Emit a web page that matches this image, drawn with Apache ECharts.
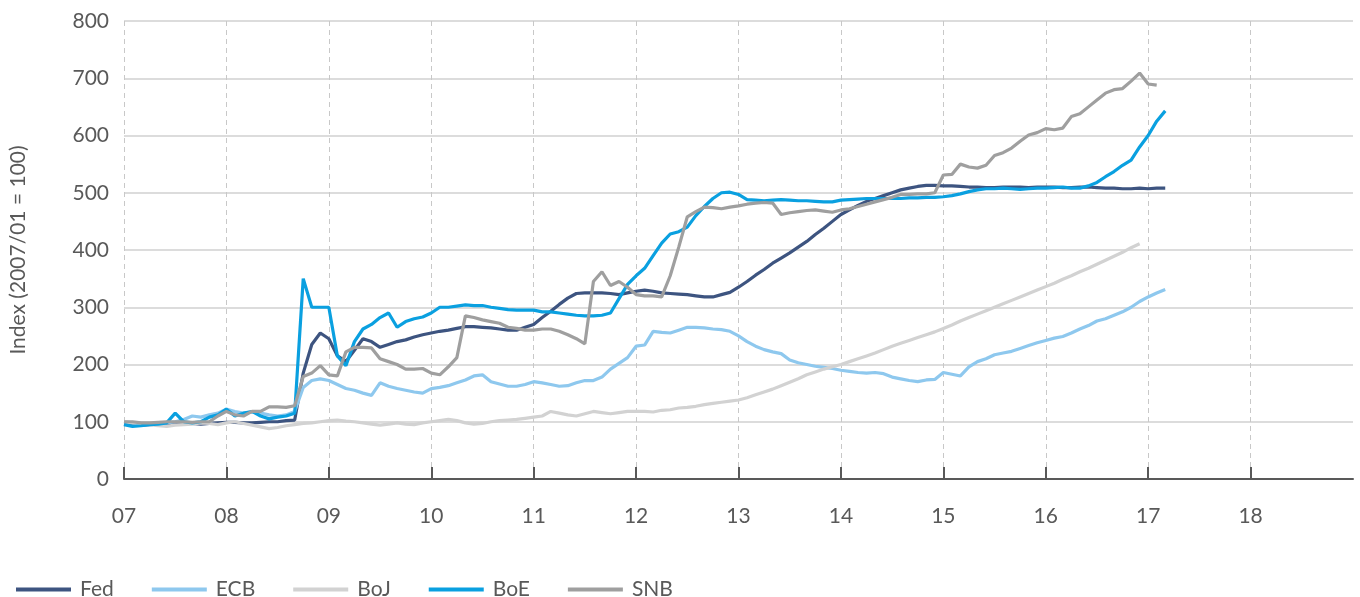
<!DOCTYPE html>
<html>
<head>
<meta charset="utf-8">
<script src="https://cdn.jsdelivr.net/npm/echarts@6/dist/echarts.min.js"></script>
<style>
  html, body { margin: 0; padding: 0; background: #fff; }
  #main { width: 1360px; height: 597px; }
</style>
</head>
<body>
<div id="main"></div>
<script>
// monthly index values, 2007/01 = 100, first value is Jan 2007
const START_YEAR = 2007;
const seriesNames = ["Fed", "ECB", "BoJ", "BoE", "SNB"];
const colors = ["#3d5480", "#8ec8ee", "#d2d2d2", "#0aa0e0", "#9f9f9f"];

const fed = [
  96, 94, 94, 95, 96, 96, 97, 98, 97, 96, 97, 98,
  99, 99, 98, 98, 99, 100, 100, 102, 103, 185, 235, 255,
  245, 215, 205, 225, 245, 240, 230, 235, 240, 243, 248, 252,
  255, 258, 260, 263, 266, 266, 265, 264, 262, 260, 260, 265,
  270, 282, 293, 305, 316, 324, 325, 325, 325, 324, 322, 325,
  328, 330, 328, 325, 324, 323, 322, 320, 318, 318, 322, 326,
  335, 345, 356, 366, 377, 386, 395, 405, 415, 427, 438, 450,
  462, 470, 478, 485, 490, 495, 500, 505, 508, 511, 513, 513,
  512, 512, 511, 510, 510, 509, 509, 510, 510, 510, 509, 510,
  510, 510, 509, 509, 510, 510, 509, 508, 508, 507, 507, 508,
  507, 508, 508
];
const ecb = [
  100, 98, 97, 96, 97, 98, 100, 104, 110, 108, 112, 115,
  122, 118, 115, 117, 115, 112, 110, 112, 118, 160, 172, 175,
  172, 165, 158, 155, 150, 146, 168, 162, 158, 155, 152, 150,
  158, 160, 163, 168, 173, 180, 182, 170, 166, 162, 162, 165,
  170, 168, 165, 162, 163, 168, 172, 172, 178, 192, 202, 212,
  232, 234, 258, 256, 255, 260, 265, 265, 264, 262, 261, 258,
  250, 240, 232, 226, 222, 219, 208, 203, 200, 197, 195, 193,
  190, 188, 186, 185, 186, 184, 178, 175, 172, 170, 173, 174,
  186, 183, 180, 196, 205, 210, 217, 220, 223, 228, 233, 238,
  242, 246, 249, 255, 262, 268, 276, 280, 286, 292, 300, 310,
  318, 325, 331
];
const boj = [
  100, 98, 96, 95, 93, 92, 94, 95, 96, 98, 97, 95,
  98, 100, 97, 94, 91, 88, 90, 93, 95, 97, 98, 100,
  102, 103, 101, 100, 98, 96, 94, 96, 98, 96, 95, 98,
  100, 102, 104, 102, 98, 96, 97, 100, 102, 103, 104, 106,
  108, 110, 118, 115, 112, 110, 114, 118, 116, 114, 116, 118,
  118, 118, 117, 120, 121, 124, 125, 127, 130, 132, 134, 136,
  138, 142, 147, 152, 157, 163, 169, 175, 182, 187, 192, 196,
  200, 205, 210, 215, 220, 226, 232, 237, 242, 247, 252, 257,
  263, 269, 276, 282, 288, 294, 300, 306, 312, 318, 324, 330,
  336, 342, 349, 355, 362, 368, 375, 382, 389, 396, 404, 411
];
const boe = [
  95, 92, 93, 95, 96, 98, 115, 100, 98, 100, 108, 112,
  122, 110, 115, 118, 110, 105, 108, 110, 115, 350, 300, 300,
  300, 215, 198, 240, 262, 270, 282, 290, 265, 275, 280, 283,
  290, 300, 300, 302, 304, 303, 303, 300, 298, 296, 295, 295,
  295, 292, 292, 290, 288, 286, 285, 285, 286, 290, 315, 340,
  355, 368, 390, 412, 428, 432, 440, 460, 476, 490, 500, 501,
  497, 488, 487, 486, 487, 488, 487, 486, 486, 485, 484, 484,
  487, 488, 489, 490, 490, 490, 490, 490, 491, 491, 492, 492,
  493, 495, 498, 502, 505, 507, 507, 508, 507, 506, 507, 508,
  508, 509, 510, 508, 508, 512, 518, 528, 537, 548, 557, 580,
  600, 625, 643
];
const snb = [
  100, 100, 98, 98, 99, 100, 100, 100, 99, 100, 100, 110,
  118, 112, 110, 118, 118, 126, 126, 125, 128, 179, 185, 198,
  182, 180, 222, 230, 230, 229, 210, 205, 200, 192, 192, 193,
  185, 182, 196, 212, 285, 282, 278, 275, 272, 265, 263, 260,
  260, 262, 262, 258, 252, 245, 236, 345, 362, 338, 345, 335,
  322, 320, 320, 318, 355, 405, 458, 467, 475, 474, 472, 475,
  477, 480, 482, 483, 482, 462, 465, 467, 469, 470, 468, 466,
  470, 472, 476, 480, 484, 488, 492, 497, 497, 498, 498, 500,
  531, 532, 550, 545, 543, 548, 565, 570, 578, 590, 601, 605,
  612, 610, 613, 633, 638, 650, 662, 674, 680, 682, 695, 709,
  690, 688
];
const seriesValues = [fed, ecb, boj, boe, snb];

const toPoints = (vals) => vals.map((v, i) => [START_YEAR + i / 12, v]);

const chart = echarts.init(document.getElementById("main"), null, { renderer: "canvas" });

const font = "Lato, 'Liberation Sans', sans-serif";

const option = {
  animation: false,
  backgroundColor: "#fff",
  grid: { left: 123.5, right: 7, top: 21, bottom: 118, containLabel: false },
  legend: {
    data: seriesNames,
    left: 11,
    top: 574,
    icon: "rect",
    itemWidth: 55,
    itemHeight: 4,
    itemGap: 38,
    textStyle: { fontFamily: font, fontSize: 21, color: "#595959", padding: [0, 0, 0, 4] }
  },
  xAxis: {
    type: "value",
    min: 2007,
    max: 2019,
    interval: 1,
    axisLine: { show: true, lineStyle: { color: "#595959", width: 2 } },
    axisTick: { show: true, inside: true, length: 12, lineStyle: { color: "#595959", width: 2 } },
    axisLabel: {
      margin: 27,
      fontFamily: font,
      fontSize: 21,
      color: "#595959",
      showMaxLabel: false,
      formatter: (v) => String(v).slice(2)
    },
    splitLine: {
      show: true,
      showMaxLine: false,
      lineStyle: { color: "#c8c8c8", type: [5, 4], width: 1 }
    }
  },
  yAxis: {
    type: "value",
    min: 0,
    max: 800,
    interval: 100,
    name: "Index (2007/01 = 100)",
    nameLocation: "middle",
    nameGap: 95,
    nameRotate: 90,
    nameTextStyle: { fontFamily: font, fontSize: 21, color: "#595959" },
    axisLine: { show: false },
    axisTick: { show: false },
    axisLabel: { margin: 15, fontFamily: font, fontSize: 21, color: "#595959" },
    splitLine: { show: true, lineStyle: { color: "#d0d0d0", width: 1.5 } }
  },
  series: seriesNames.map((name, k) => ({
    name: name,
    type: "line",
    data: toPoints(seriesValues[k]),
    showSymbol: false,
    symbol: "none",
    color: colors[k],
    lineStyle: { color: colors[k], width: 3.2 }
  }))
};

chart.setOption(option);
</script>
</body>
</html>
